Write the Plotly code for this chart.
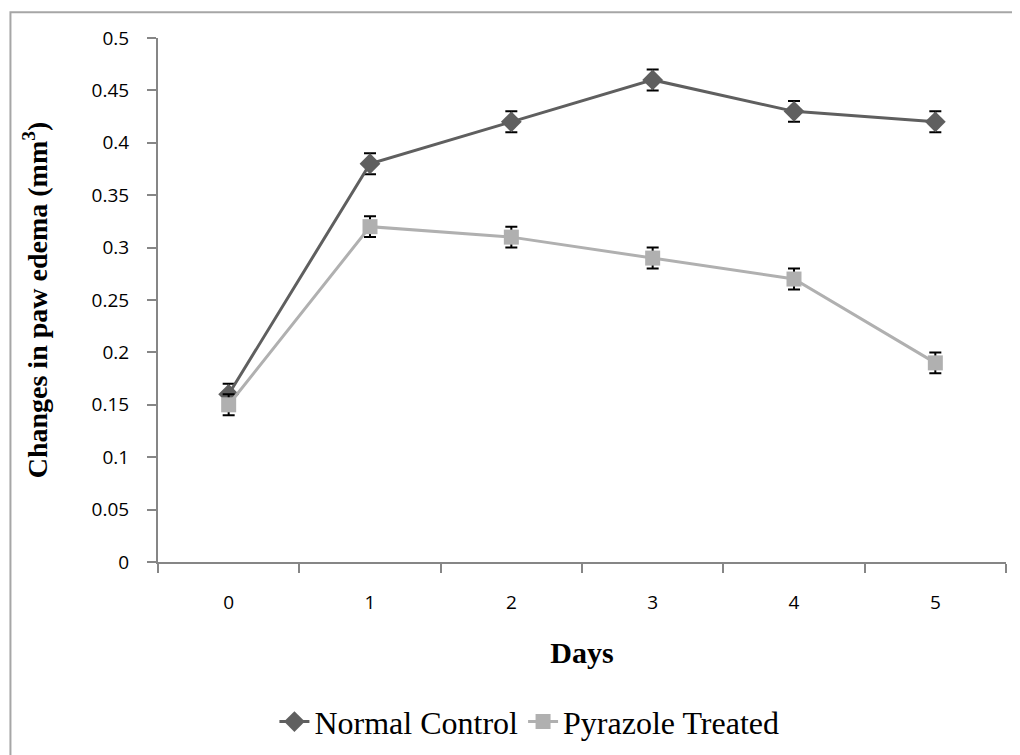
import plotly.graph_objects as go

days = ["0", "1", "2", "3", "4", "5"]
normal_control = [0.16, 0.38, 0.42, 0.46, 0.43, 0.42]
normal_err = [0.01, 0.01, 0.01, 0.01, 0.01, 0.01]
pyrazole = [0.15, 0.32, 0.31, 0.29, 0.27, 0.19]
pyrazole_err = [0.01, 0.01, 0.01, 0.01, 0.01, 0.01]

fig = go.Figure()
fig.add_trace(go.Scatter(
    x=days, y=normal_control, name="Normal Control", mode="lines+markers",
    line=dict(color="#5f5f5f", width=3),
    marker=dict(symbol="diamond", size=16, color="#5f5f5f"),
    error_y=dict(type="data", array=normal_err, color="black", thickness=2, width=6),
))
fig.add_trace(go.Scatter(
    x=days, y=pyrazole, name="Pyrazole Treated", mode="lines+markers",
    line=dict(color="#b0b0b0", width=3),
    marker=dict(symbol="square", size=15, color="#b0b0b0"),
    error_y=dict(type="data", array=pyrazole_err, color="black", thickness=2, width=6),
))

fig.update_layout(
    width=1012, height=747,
    margin=dict(l=150, r=14, t=30, b=193, autoexpand=False),
    plot_bgcolor="white", paper_bgcolor="white",
    showlegend=True,
    legend=dict(orientation="h", x=0.438, xanchor="center", y=-0.305, yanchor="middle",
                font=dict(family="Liberation Serif", size=32, color="black"),
                tracegroupgap=0),
    xaxis=dict(type="category", range=[-0.5, 5.5], tickson="boundaries", automargin=False,
               ticks="outside", ticklen=9, tickcolor="#868686", tickwidth=2,
               showline=True, linecolor="#868686", linewidth=2, showgrid=False,
               ticklabelstandoff=22,
               tickfont=dict(family="Open Sans", size=19, color="black"),
               title=dict(text="<b>Days</b>", font=dict(family="Liberation Serif", size=30, color="black"),
                          standoff=28)),
    yaxis=dict(range=[0, 0.5], dtick=0.05, tick0=0, automargin=False,
               ticks="outside", ticklen=9, tickcolor="#868686", tickwidth=2,
               showline=True, linecolor="#868686", linewidth=2, showgrid=False, zeroline=False,
               ticklabelstandoff=14,
               tickfont=dict(family="Open Sans", size=19, color="black"),
               title=dict(text="<b>Changes in paw edema (mm<sup>3</sup>)</b>",
                          font=dict(family="Liberation Serif", size=28, color="black"),
                          standoff=36)),
    shapes=[dict(type="rect", xref="paper", yref="paper",
                 x0=-0.174, x1=1.012, y0=-0.42, y1=1.049,
                 line=dict(color="#a6a6a6", width=2), fillcolor="rgba(0,0,0,0)", layer="below")],
)

fig.write_html("out.html")
